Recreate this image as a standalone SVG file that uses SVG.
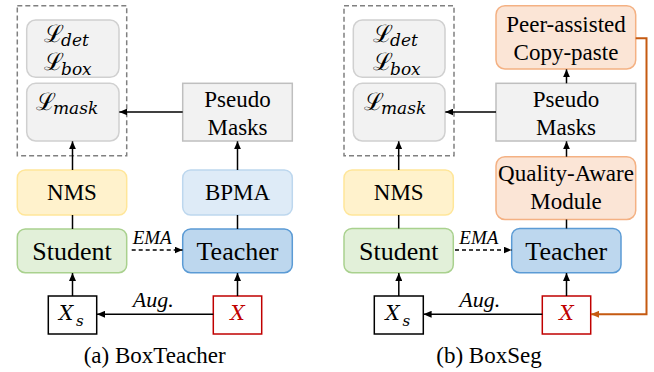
<svg xmlns="http://www.w3.org/2000/svg" width="654" height="372" viewBox="0 0 654 372">
<defs>
<marker id="ah" markerWidth="8" markerHeight="7" refX="8" refY="3.5" orient="auto" markerUnits="userSpaceOnUse"><path d="M0,0 L8,3.5 L0,7 z" fill="#000"/></marker>
<marker id="aho" markerWidth="8" markerHeight="7" refX="8" refY="3.5" orient="auto" markerUnits="userSpaceOnUse"><path d="M0,0 L8,3.5 L0,7 z" fill="#c55a11"/></marker>
<style>
.t{font-family:"Liberation Serif","Times New Roman",serif;font-size:23px;fill:#000;text-anchor:middle}
.big{font-size:26px}
.it{font-family:"Liberation Serif","Times New Roman",serif;font-style:italic;fill:#000}
.cal{font-family:"DejaVu Serif",serif;font-size:24px;fill:#000}
.sub{font-family:"DejaVu Serif",serif;font-style:italic;font-size:17px;fill:#000}
.mx{font-family:"DejaVu Serif",serif;font-style:italic;fill:#000}
.loss{fill:#f2f2f2;stroke:#d0d0d0;stroke-width:1.5}
.pm{fill:#f2f2f2;stroke:#bfbfbf;stroke-width:1.5}
.nms{fill:#fff2cc;stroke:#ffe699;stroke-width:1.5}
.bpma{fill:#deebf7;stroke:#bdd7ee;stroke-width:1.5}
.stu{fill:#e2f0d9;stroke:#a9d18e;stroke-width:1.5}
.tea{fill:#bdd7ee;stroke:#5b9bd5;stroke-width:1.5}
.org{fill:#fbe5d6;stroke:#f4b183;stroke-width:1.5}
.xs{fill:#fff;stroke:#000;stroke-width:1.5}
.xr{fill:#fff;stroke:#c00000;stroke-width:1.5}
.dash{fill:none;stroke:#808080;stroke-width:1.5;stroke-dasharray:5,3}
.c{stroke:#000;stroke-width:1.5;fill:none}
.ca{stroke:#000;stroke-width:1.5;fill:none;marker-end:url(#ah)}
.cd{stroke:#000;stroke-width:1.5;fill:none;stroke-dasharray:4,3;marker-end:url(#ah)}
.co{stroke:#c55a11;stroke-width:2;fill:none;marker-end:url(#aho)}
</style>
</defs>

<!-- ===== Panel (a) ===== -->
<rect class="dash" x="17.3" y="5.7" width="109.4" height="150"/>
<g id="a-loss-detbox">
<rect class="loss" x="26.7" y="20" width="92.3" height="57.3" rx="9"/>
<text x="44" y="42"><tspan class="cal">ℒ</tspan><tspan class="sub" x="61" y="46">det</tspan></text>
<text x="44" y="70"><tspan class="cal">ℒ</tspan><tspan class="sub" x="61" y="75">box</tspan></text>
</g>
<g id="a-loss-mask">
<rect class="loss" x="26.7" y="83.3" width="92.3" height="57.7" rx="9"/>
<text x="36" y="110"><tspan class="cal">ℒ</tspan><tspan class="sub" x="53" y="114">mask</tspan></text>
</g>
<g id="a-pseudo">
<rect class="pm" x="182.7" y="83.3" width="109.6" height="57.7"/>
<text class="t" x="237.5" y="106.7">Pseudo</text>
<text class="t" x="237.5" y="135">Masks</text>
</g>
<g id="a-nms">
<rect class="nms" x="17.3" y="170" width="109.4" height="45" rx="8"/>
<text class="t" x="72" y="200">NMS</text>
</g>
<g id="a-bpma">
<rect class="bpma" x="182.7" y="170" width="109.6" height="45" rx="8"/>
<text class="t" x="237.5" y="200">BPMA</text>
</g>
<g id="a-student">
<rect class="stu" x="17.3" y="229" width="109.4" height="43.7" rx="8"/>
<text class="t big" x="72" y="260">Student</text>
</g>
<g id="a-teacher">
<rect class="tea" x="182.7" y="229" width="109.6" height="43.7" rx="8"/>
<text class="t big" x="237.5" y="260">Teacher</text>
</g>
<g id="a-xs">
<rect class="xs" x="48.3" y="296" width="48.4" height="38"/>
<text x="59" y="320"><tspan class="mx" font-size="20">X</tspan><tspan class="mx" font-size="15" x="76" y="326">s</tspan></text>
</g>
<g id="a-x">
<rect class="xr" x="213.3" y="296" width="48.4" height="38"/>
<text class="mx" font-size="20" x="237.5" y="320" text-anchor="middle" style="fill:#c00000">X</text>
</g>
<text class="t" x="154.7" y="363">(a) BoxTeacher</text>

<!-- ===== Panel (b) ===== -->
<rect class="dash" x="344" y="5.7" width="110" height="150"/>
<g id="b-loss-detbox">
<rect class="loss" x="353.3" y="20" width="91.7" height="57.3" rx="9"/>
<text x="373" y="42"><tspan class="cal">ℒ</tspan><tspan class="sub" x="390" y="46">det</tspan></text>
<text x="373" y="70"><tspan class="cal">ℒ</tspan><tspan class="sub" x="390" y="75">box</tspan></text>
</g>
<g id="b-loss-mask">
<rect class="loss" x="353.3" y="83.3" width="91.7" height="57.7" rx="9"/>
<text x="364" y="110"><tspan class="cal">ℒ</tspan><tspan class="sub" x="381" y="114">mask</tspan></text>
</g>
<g id="b-peer">
<rect class="org" x="496" y="5.7" width="139.7" height="63.3" rx="9"/>
<text class="t" x="566" y="31.5">Peer-assisted</text>
<text class="t" x="566" y="60">Copy-paste</text>
</g>
<g id="b-pseudo">
<rect class="pm" x="496" y="83.3" width="139.7" height="57.7"/>
<text class="t" x="566" y="106.7">Pseudo</text>
<text class="t" x="566" y="135">Masks</text>
</g>
<g id="b-qam">
<rect class="org" x="496" y="156.7" width="139.7" height="62.8" rx="9"/>
<text class="t" x="566" y="181">Quality-Aware</text>
<text class="t" x="566" y="209">Module</text>
</g>
<g id="b-nms">
<rect class="nms" x="344" y="170" width="109.3" height="45" rx="8"/>
<text class="t" x="398.7" y="200">NMS</text>
</g>
<g id="b-student">
<rect class="stu" x="344" y="228.5" width="109.3" height="44.2" rx="8"/>
<text class="t big" x="398.7" y="260">Student</text>
</g>
<g id="b-teacher">
<rect class="tea" x="511.7" y="228.5" width="109.3" height="44.2" rx="8"/>
<text class="t big" x="566.3" y="260">Teacher</text>
</g>
<g id="b-xs">
<rect class="xs" x="374.3" y="296" width="49" height="38"/>
<text x="385.5" y="320"><tspan class="mx" font-size="20">X</tspan><tspan class="mx" font-size="15" x="402.5" y="326">s</tspan></text>
</g>
<g id="b-x">
<rect class="xr" x="542.3" y="296" width="48.4" height="38"/>
<text class="mx" font-size="20" x="566.5" y="320" text-anchor="middle" style="fill:#c00000">X</text>
</g>
<text class="t" x="489" y="363">(b) BoxSeg</text>

<!-- ===== Connectors ===== -->
<g id="connectors">
<!-- panel a -->
<line class="ca" x1="72.5" y1="296" x2="72.5" y2="273"/>
<line class="ca" x1="237.5" y1="296" x2="237.5" y2="273"/>
<line class="ca" x1="213.3" y1="314.3" x2="97" y2="314.3"/>
<line class="cd" x1="131.7" y1="250" x2="182.5" y2="250"/>
<line class="c" x1="72.5" y1="229" x2="72.5" y2="215"/>
<line class="ca" x1="72.5" y1="170" x2="72.5" y2="141.3"/>
<line class="c" x1="237.5" y1="229" x2="237.5" y2="215"/>
<line class="ca" x1="237.5" y1="170" x2="237.5" y2="141.3"/>
<line class="ca" x1="182.7" y1="112" x2="119.3" y2="112"/>
<text class="it" font-size="19" x="132.7" y="244">EMA</text>
<text class="it" font-size="22" x="132.7" y="306.7">Aug.</text>
<!-- panel b -->
<line class="ca" x1="398.8" y1="296" x2="398.8" y2="273"/>
<line class="ca" x1="566.5" y1="296" x2="566.5" y2="273"/>
<line class="ca" x1="542.3" y1="314.3" x2="423.6" y2="314.3"/>
<line class="cd" x1="455" y1="250" x2="511.5" y2="250"/>
<line class="c" x1="398.7" y1="228.5" x2="398.7" y2="215"/>
<line class="ca" x1="398.7" y1="170" x2="398.7" y2="141.3"/>
<line class="c" x1="566.5" y1="228.5" x2="566.5" y2="219.5"/>
<line class="ca" x1="566.5" y1="156.7" x2="566.5" y2="141.3"/>
<line class="ca" x1="566.5" y1="83.3" x2="566.5" y2="69.3"/>
<line class="ca" x1="496" y1="112" x2="445.3" y2="112"/>
<path class="co" d="M635.7,38.3 H646.5 V314.3 H591"/>
<text class="it" font-size="19" x="459.3" y="244">EMA</text>
<text class="it" font-size="22" x="459.3" y="306.7">Aug.</text>
</g>
</svg>
